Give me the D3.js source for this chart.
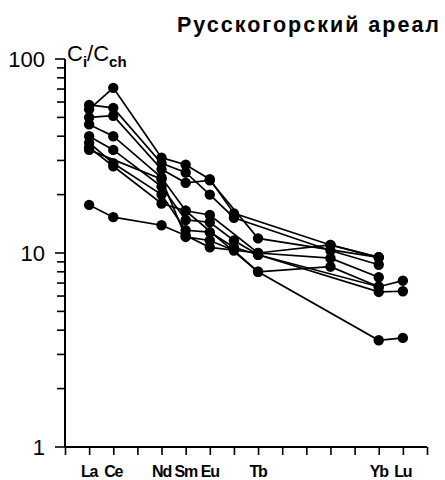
<!DOCTYPE html>
<html lang="ru">
<head>
    <meta charset="UTF-8">
    <script src="https://d3js.org/d3.v7.min.js"></script>
    <style>
        body { margin: 0; background: white; }
        text { font-family: Arial, "Liberation Sans", sans-serif; fill: black; }
    </style>
</head>
<body>
    <svg id="chart" width="445" height="480"></svg>
    <script>
        // REE order without Pm: La=1 ... Lu=14
        const elements = ["La", "Ce", "Pr", "Nd", "Sm", "Eu", "Gd", "Tb", "Dy", "Ho", "Er", "Tm", "Yb", "Lu"];
        const labeled = ["La", "Ce", "Nd", "Sm", "Eu", "Tb", "Yb", "Lu"];
        const yTicks = [1, 10, 100];

        // columns: La, Ce, Nd, Sm, Eu, Gd, Tb, Er, Yb, Lu
        const cols = ["La", "Ce", "Nd", "Sm", "Eu", "Gd", "Tb", "Er", "Yb", "Lu"];
        const s1 = [55, 71, 31, 28.5, 24, 16, null, 11, 9.5, null];
        const s2 = [58, 56, 29, 26, 20, 15.2, null, 10.3, 8.7, null];
        const s3 = [50, 51, 27, 23, 23.7, null, 11.9, null, 9.5, null];
        const s4 = [46, 40, 24.5, 16.5, 15.7, null, 10, 9.4, 7.5, null];
        const s5 = [40, 34, 22, 14.8, 14.4, 11.6, 9.8, null, 6.7, 7.2];
        const s6 = [37, 29, 20, 13.1, 12.8, 10.7, 9.8, null, 6.3, 6.35];
        const s7 = [35, 28, 18, 16.5, null, null, 8.0, null, 3.55, 3.65];
        const s8 = [34, null, 24, 12.1, 11.6, 10.3, 8.0, 8.5, 6.7, null];
        const s9 = [17.7, 15.3, 13.9, 12.3, 10.7, null, 10, 11, 9.5, null];
        const samples = [s1, s2, s3, s4, s5, s6, s7, s8, s9];

        const svg = d3.select("#chart");
        const margin = { top: 59, left: 65, right: 427, bottom: 447 };

        const x = d3.scaleLinear().domain([0, 15]).range([margin.left, margin.right]);
        const y = d3.scaleLog().domain([1, 100]).range([margin.bottom, margin.top]);
        const idx = name => elements.indexOf(name) + 1;

        // title
        svg.append("text")
            .attr("x", 441).attr("y", 32)
            .attr("text-anchor", "end")
            .style("font-size", "21.5px").style("font-weight", "bold")
            .style("letter-spacing", "2px")
            .text("Русскогорский ареал");

        // y label C_i/C_ch
        const yl = svg.append("text").attr("x", 67).attr("y", 61).style("font-size", "22px");
        yl.append("tspan").text("C");
        yl.append("tspan").attr("dy", 6).style("font-size", "15px").style("font-weight", "bold").text("i");
        yl.append("tspan").attr("dy", -6).text("/C");
        yl.append("tspan").attr("dy", 6).style("font-size", "15px").style("font-weight", "bold").text("ch");

        // y axis line + log ticks (major and minor)
        svg.append("line")
            .attr("x1", margin.left).attr("x2", margin.left)
            .attr("y1", y(1)).attr("y2", y(100))
            .attr("stroke", "black").attr("stroke-width", 2);
        const minor = [];
        yTicks.slice(0, -1).forEach(t => d3.range(1, 10).forEach(k => minor.push(t * k)));
        minor.push(100);
        svg.append("g").selectAll("line")
            .data(minor)
            .enter().append("line")
            .attr("x1", margin.left)
            .attr("x2", d => margin.left - (yTicks.includes(d) ? 10 : 8))
            .attr("y1", d => y(d)).attr("y2", d => y(d))
            .attr("stroke", "black").attr("stroke-width", 1.6);
        svg.append("g").selectAll("text")
            .data(yTicks)
            .enter().append("text")
            .attr("x", 45)
            .attr("y", d => y(d))
            .attr("dy", "0.36em")
            .attr("text-anchor", "end")
            .style("font-size", "22px")
            .text(d => d);

        // x axis
        const xAxis = svg.append("g")
            .attr("transform", `translate(0,${margin.bottom})`)
            .call(d3.axisBottom(x).ticks(15).tickSize(8).tickFormat(""));
        xAxis.select(".domain").attr("d", `M${margin.left},0H${margin.right}`).attr("stroke-width", 2);
        xAxis.selectAll(".tick line").attr("stroke-width", 1.6);
        svg.append("g").selectAll("text")
            .data(labeled)
            .enter().append("text")
            .attr("x", d => x(idx(d)))
            .attr("y", 477)
            .attr("text-anchor", "middle")
            .style("font-size", "16px").style("font-weight", "bold")
            .style("letter-spacing", "-1.2px")
            .text(d => d);

        const line = d3.line().x(d => x(idx(d.el))).y(d => y(d.v));

        samples.forEach(s => {
            const pts = cols.map((el, i) => ({ el, v: s[i] })).filter(d => d.v != null);
            svg.append("path")
                .datum(pts)
                .attr("d", line)
                .attr("fill", "none")
                .attr("stroke", "black")
                .attr("stroke-width", 1.7);
            svg.append("g").selectAll("circle")
                .data(pts)
                .enter().append("circle")
                .attr("cx", d => x(idx(d.el)))
                .attr("cy", d => y(d.v))
                .attr("r", 5.2)
                .attr("fill", "black");
        });
    </script>
</body>
</html>
